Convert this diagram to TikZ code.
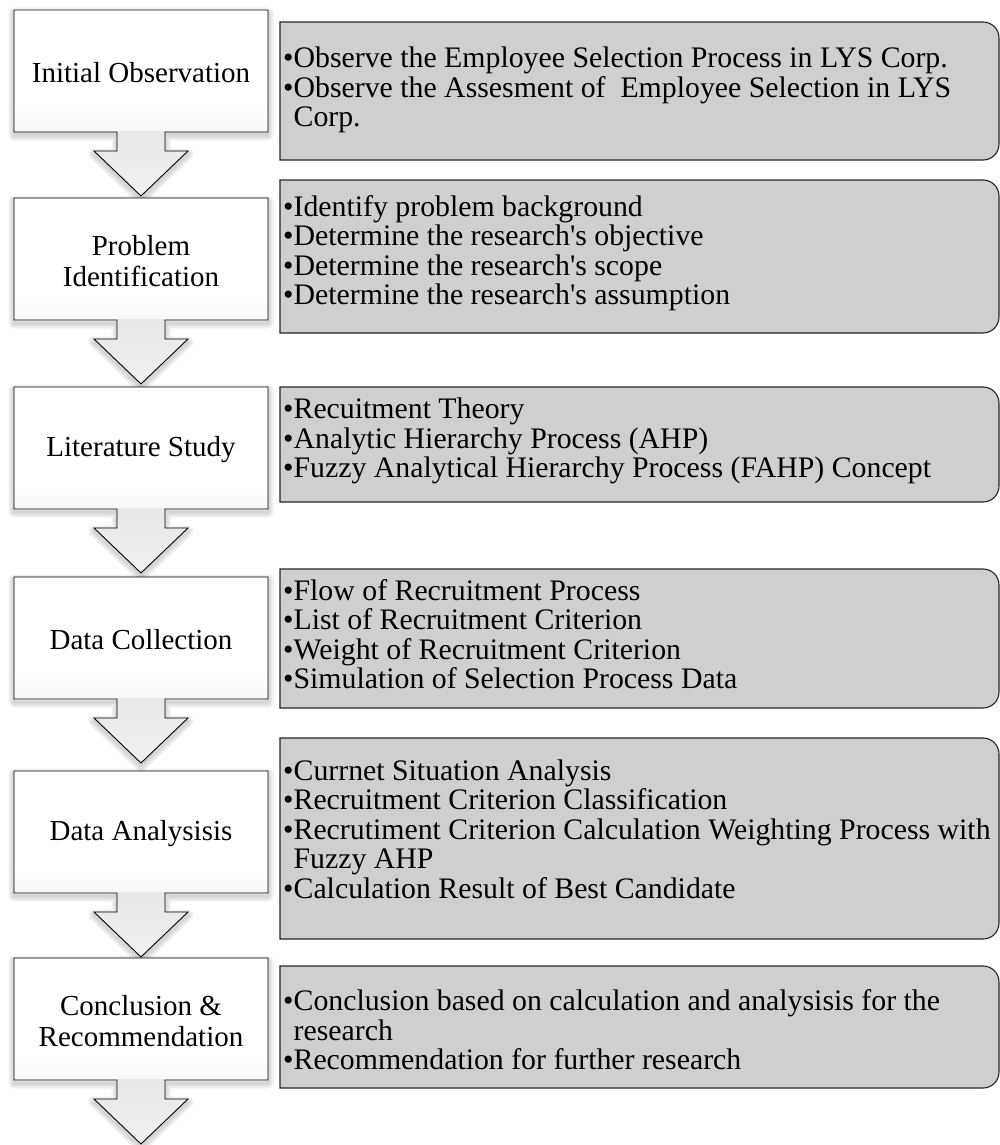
\documentclass[tikz,border=0pt]{standalone}
\usepackage{fontspec}
\setmainfont{Liberation Serif}
\pgfdeclareverticalshading{stepfade}{100bp}{color(0bp)=(black!11); color(35bp)=(white); color(100bp)=(white)}
\pgfdeclareverticalshading{arrowfade}{100bp}{color(0bp)=(black!4); color(100bp)=(black!11)}
\begin{document}
\begin{tikzpicture}[x=1pt,y=-1pt,
  steplabel/.style={align=center,inner sep=0pt,font=\fontsize{29}{31}\selectfont},
  itemtext/.style={align=left,anchor=west,inner sep=0pt,font=\fontsize{29.8}{29.5}\selectfont},
  itembox/.style={fill=black!19,draw=black!85,line width=1.1pt},
  outline/.style={draw=black,line width=0.9pt},
  shadowline/.style={draw=black,opacity=0.06,line join=round}]
\useasboundingbox (0,0) rectangle (1000,1145);

% left column: step boxes, each with a down arrow underneath
\foreach \t in {10,198,387,577,771,958}{
  % soft shadow
  \foreach \w in {11,7,3}{
    \path[shadowline,line width=\w pt,yshift=-3pt]
      (14,\t) -- (268,\t) -- (268,\t+122) -- (165,\t+122) -- (165,\t+141)
      -- (188,\t+141) -- (141,\t+186) -- (94,\t+141) -- (117,\t+141)
      -- (117,\t+122) -- (14,\t+122) -- cycle;
  }
  \path[fill=white]
      (14,\t) -- (268,\t) -- (268,\t+122) -- (165,\t+122) -- (165,\t+141)
      -- (188,\t+141) -- (141,\t+186) -- (94,\t+141) -- (117,\t+141)
      -- (117,\t+122) -- (14,\t+122) -- cycle;
  \shade[shading=stepfade] (14,\t) rectangle (268,\t+122);
  \shade[shading=arrowfade] (165,\t+121) -- (165,\t+141) -- (188,\t+141)
      -- (141,\t+186) -- (94,\t+141) -- (117,\t+141) -- (117,\t+121) -- cycle;
  \path[outline]
      (14,\t) -- (268,\t) -- (268,\t+122) -- (165,\t+122) -- (165,\t+141)
      -- (188,\t+141) -- (141,\t+186) -- (94,\t+141) -- (117,\t+141)
      -- (117,\t+122) -- (14,\t+122) -- cycle;
}

\node[steplabel] (s1) at (141,73) {Initial Observation};
\node[steplabel] (s2) at (141,261) {Problem\\Identification};
\node[steplabel] (s3) at (141,450) {Literature Study};
\node[steplabel] (s4) at (141,640) {Data Collection};
\node[steplabel] (s5) at (141,834) {Data Analysisis};
\node[steplabel] (s6) at (141,1021) {Conclusion \&\\Recommendation};

% right column: grey detail boxes, rounded on the right side
\foreach \a/\b in {22/160,180/333,387/502,569/708,738/939,966/1088}{
  \path[itembox] (640,\a) [rounded corners=16pt] -- (999,\a) -- (999,\b)
      -- (640,\b) [sharp corners] -- (280,\b) -- (280,\a) -- cycle;
}

\node[itemtext] (d1) at (283,90) {%
  •Observe the Employee Selection Process in LYS Corp.\\
  •Observe the Assesment of~ Employee Selection in LYS\\
  \hphantom{•}Corp.};
\node[itemtext] (d2) at (283,253) {%
  •Identify problem background\\
  •Determine the research\textquotesingle s objective\\
  •Determine the research\textquotesingle s scope\\
  •Determine the research\textquotesingle s assumption};
\node[itemtext] (d3) at (283,441) {%
  •Recuitment Theory\\
  •Analytic Hierarchy Process (AHP)\\
  •Fuzzy Analytical Hierarchy Process (FAHP) Concept};
\node[itemtext] (d4) at (283,634) {%
  •Flow of Recruitment Process\\
  •List of Recruitment Criterion\\
  •Weight of Recruitment Criterion\\
  •Simulation of Selection Process Data};
\node[itemtext] (d5) at (283,829) {%
  •Currnet Situation Analysis\\
  •Recruitment Criterion Classification\\
  •Recrutiment Criterion Calculation Weighting Process with\\
  \hphantom{•}Fuzzy AHP\\
  •Calculation Result of Best Candidate};
\node[itemtext] (d6) at (283,1030) {%
  •Conclusion based on calculation and analysisis for the\\
  \hphantom{•}research\\
  •Recommendation for further research};
\end{tikzpicture}
\end{document}
